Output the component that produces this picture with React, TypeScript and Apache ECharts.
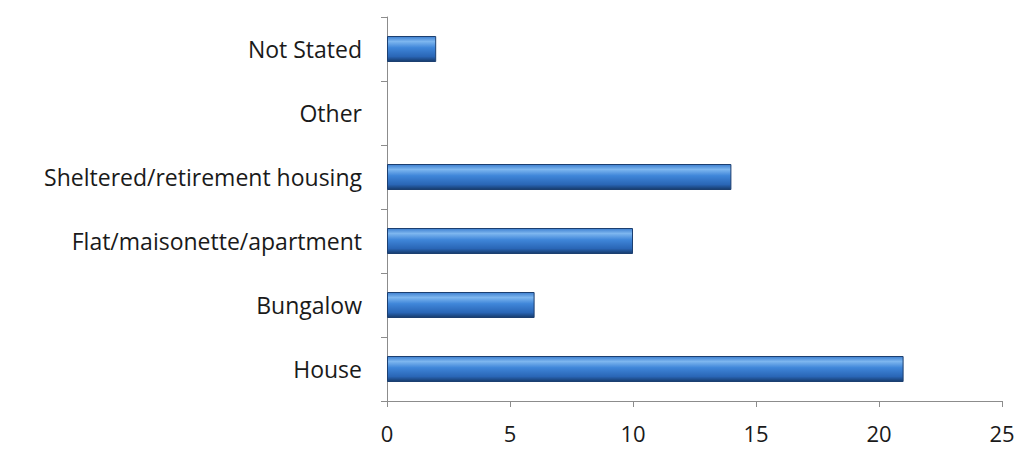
import React, { useEffect, useRef } from "react";
import * as echarts from "echarts";

const categories = ["House", "Bungalow", "Flat/maisonette/apartment", "Sheltered/retirement housing", "Other", "Not Stated"];
const counts = [21, 6, 10, 14, 0, 2];
const xTicks = { min: 0, max: 25, interval: 5 };

const FONT = "'Open Sans', sans-serif";

export default function App() {
  const ref = useRef<HTMLDivElement>(null);
  useEffect(() => {
    const chart = echarts.init(ref.current!, null, { renderer: "svg" });
    chart.setOption({
      animation: false,
      backgroundColor: "#ffffff",
      grid: { left: 387, right: 21, top: 17, bottom: 68 },
      xAxis: {
        type: "value",
        min: xTicks.min,
        max: xTicks.max,
        interval: xTicks.interval,
        axisLine: { show: true, lineStyle: { color: "#8c8c8c", width: 1 } },
        axisTick: { show: true, length: 6, lineStyle: { color: "#8c8c8c" } },
        splitLine: { show: false },
        axisLabel: { color: "#1a1a1a", fontSize: 22, fontFamily: FONT, margin: 21 },
      },
      yAxis: {
        type: "category",
        data: categories,
        axisLine: { show: true, lineStyle: { color: "#8c8c8c", width: 1 } },
        axisTick: { show: true, length: 6, lineStyle: { color: "#8c8c8c" } },
        axisLabel: { color: "#1a1a1a", fontSize: 23, fontFamily: FONT, margin: 25 },
      },
      series: [
        {
          type: "bar",
          data: counts.map((v) => (v === 0 ? { value: v, itemStyle: { borderWidth: 0 } } : v)),
          barWidth: 26,
          itemStyle: {
            borderColor: "#1c3f70",
            borderWidth: 1,
            color: new echarts.graphic.LinearGradient(0, 0, 0, 1, [
              { offset: 0, color: "#3d7fd0" },
              { offset: 0.2, color: "#7db6ef" },
              { offset: 0.45, color: "#3f86d9" },
              { offset: 0.8, color: "#2a66b6" },
              { offset: 1, color: "#163b6c" },
            ]),
          },
        },
      ],
    });
    return () => chart.dispose();
  }, []);
  return <div ref={ref} style={{ width: 1023, height: 469, position: "absolute", left: 0, top: 0 }} />;
}
